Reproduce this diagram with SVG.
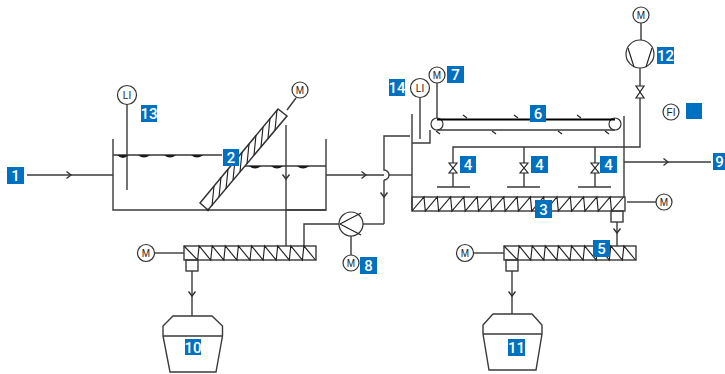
<svg xmlns="http://www.w3.org/2000/svg" width="725" height="374" viewBox="0 0 725 374">
<style>
.l{fill:none;stroke:#3a3a3a;stroke-width:1.4}
.t{fill:none;stroke:#222;stroke-width:1.15}
.c{fill:#fff;stroke:#333;stroke-width:1.2}
.k{fill:#222;font-family:"Liberation Sans",sans-serif;font-size:10px;text-anchor:middle}
.b{fill:#0070c0}
.w{fill:#fff;font-family:"Roboto",sans-serif;font-size:15px;font-weight:500;text-anchor:middle}
.m{fill:#1a1a1a}
.mm{marker-mid:url(#a)}
</style>
<defs>
<marker id="a" markerUnits="userSpaceOnUse" markerWidth="10" markerHeight="10" refX="5" refY="5" orient="auto" overflow="visible">
<path d="M1.500 1.500 L6 5 L1.500 8.500" fill="none" stroke="#333" stroke-width="1.400"/>
</marker>
</defs>
<rect width="725" height="374" fill="#fff"/>
<g id="connectors">
<path class="l mm" d="M27 175 L70 175 L113 175"/>
<path class="l mm" d="M326 175 L365 175 L384 175"/>
<path class="l" d="M389 175 L412 175"/>
<path class="l" d="M410 136 L384 136 L384 170 A5 5 0 0 1 384 180"/>
<path class="l mm" d="M384 180 L384 196 L384 224"/>
<path class="l" d="M384 224 L363 224"/>
<path class="l" d="M339 224 L304 224 L304 246"/>
<path class="l mm" d="M286 125 L286 178 L286 246"/>
<path class="l" d="M326 210 L286 210"/>
<path class="l" d="M351 236 L351 255"/>
<path class="l" d="M155 253 L184 253"/>
<path class="l mm" d="M192 271 L192 295 L192 316"/>
<path class="l" d="M412 143 L430 143 L430 130"/>
<path class="l" d="M420 98 L420 139"/>
<path class="l" d="M437 83 L437 118"/>
<path class="l" d="M641 23 L641 40"/>
<path class="l" d="M640 68 L640 86 M640 98 L640 147 L453 147 L453 163 M453 173 L453 187 M524 147 L524 163 M524 173 L524 187 M595 147 L595 163 M595 173 L595 187"/>
<path class="l mm" d="M624 162 L667 162 L711 162"/>
<path class="l" d="M627 202 L656 202"/>
<path class="l mm" d="M617 222 L617 232 L617 246"/>
<path class="l" d="M474 253 L504 253"/>
<path class="l mm" d="M512 271 L512 295 L512 314"/>
<path class="l" d="M296 98 L287 110"/>
</g>
<g id="tank">
<path class="l" d="M113 139 V210 H326 V139"/>
<path class="l" d="M113 155 H222 M245 166 H326"/>
<path class="m" d="M117 155 Q123 161 129 155Z M138 155 Q144 160 150 155Z M164 155 Q170 160 176 155Z M191 155 Q197 160 203 155Z M249 166 Q255 171 261 166Z M271 166 Q277 171 283 166Z M297 166 Q303 171 309 166Z"/>
</g>
<g id="node-1"><rect class="b" x="7" y="167" width="17" height="17"/><text class="w" x="15.500" y="181">1</text></g>
<g id="node-13">
<path class="l" d="M127 104 V190"/>
<circle class="c" cx="127" cy="95" r="9.500"/><text class="k" x="127" y="99">LI</text>
<rect class="b" x="141" y="105" width="16" height="17"/><text class="w" x="149" y="119">13</text>
</g>
<g id="node-2">
<path d="M200 203 L278 109 L287 116 L208 210Z" fill="#fff" stroke="#333" stroke-width="1.500"/>
<path class="t" d="M214 186 L212 206 M221 177 L219 197 M228 169 L226 189 M235 160 L233 180 M242 152 L240 172 M249 144 L247 164 M256 135 L254 155 M263 127 L261 147 M270 118 L268 138 M277 110 L275 130"/>
<circle cx="208" cy="210" r="1.300" fill="#222"/>
<circle class="c" cx="300" cy="90" r="8"/><text class="k" x="300" y="94">M</text>
<rect class="b" x="223" y="149" width="16" height="17"/><text class="w" x="231" y="163">2</text>
</g>
<g id="node-8">
<circle class="c" cx="351" cy="224" r="12"/>
<path class="t" d="M340 224 L361 213 M340 224 L361 235"/>
<circle class="c" cx="351" cy="263" r="8"/><text class="k" x="351" y="267">M</text>
<rect class="b" x="360" y="257" width="17" height="17"/><text class="w" x="368.500" y="271">8</text>
</g>
<g id="node-conveyor-left">
<rect class="l" x="184" y="246" width="132" height="14"/>
<path class="t" d="M184 246 l13.600 14 l1.500 -14 l11.600 14 l1.500 -14 l11.600 14 l1.500 -14 l11.600 14 l1.500 -14 l11.600 14 l1.500 -14 l11.600 14 l1.500 -14 l11.600 14 l1.500 -14 l11.600 14 l1.500 -14 l11.600 14 l1.500 -14 l11.600 14"/>
<circle class="c" cx="146" cy="253" r="8.500"/><text class="k" x="146" y="257">M</text>
<rect class="l" x="186" y="260" width="12" height="11"/>
</g>
<g id="node-10">
<path class="l" d="M173 316 H212 L222.500 326 V336 L216 372 H170 L163 336 V326Z M163 336 H222.500"/>
<rect class="b" x="185" y="339" width="16" height="16"/><text class="w" x="193" y="352.500">10</text>
</g>
<g id="node-14">
<path class="l" d="M412 114 V210"/>
<circle class="c" cx="420" cy="88" r="9.500"/><text class="k" x="420" y="92">LI</text>
<rect class="b" x="389" y="79" width="16" height="17"/><text class="w" x="397" y="93">14</text>
</g>
<g id="node-7">
<circle class="c" cx="437" cy="75" r="8"/><text class="k" x="437" y="79">M</text>
<rect class="b" x="447" y="66" width="17" height="17"/><text class="w" x="455.500" y="80">7</text>
</g>
<g id="node-6">
<circle class="c" cx="437" cy="124" r="6"/><circle class="c" cx="615" cy="124" r="6"/>
<path d="M437 119.500 H615" fill="none" stroke="#000" stroke-width="2"/>
<path class="l" d="M437 130 H615"/>
<path class="t" d="M463 115 L467 118 M514 115 L518 118 M577 115 L581 118 M436 131 L440 134 M492 131 L496 134 M558 131 L562 134 M605 131 L609 134"/>
<rect class="b" x="530" y="105" width="16" height="17"/><text class="w" x="538" y="119">6</text>
</g>
<g id="node-12">
<circle class="c" cx="640" cy="54" r="14"/>
<path class="t" d="M628 48 L634 67 M652 48 L646 67"/>
<circle class="c" cx="641" cy="15" r="8"/><text class="k" x="641" y="19">M</text>
<path class="t" d="M636 86 L644 86 L636 98 L644 98Z" fill="#fff"/>
<rect class="b" x="657" y="47" width="17" height="17"/><text class="w" x="665.500" y="61">12</text>
</g>
<g id="node-fi">
<circle class="c" cx="671" cy="112" r="8"/><text class="k" x="671" y="116">FI</text>
<rect class="b" x="686" y="103" width="16" height="16"/>
</g>
<g id="node-4a">
<path class="t" d="M449 163 L457 163 L449 173 L457 173Z" fill="#fff"/>
<path class="l" d="M437 187 H470"/>
<rect class="b" x="460" y="156" width="16" height="17"/><text class="w" x="468" y="170">4</text>
</g>
<g id="node-4b">
<path class="t" d="M520 163 L528 163 L520 173 L528 173Z" fill="#fff"/>
<path class="l" d="M507 187 H540"/>
<rect class="b" x="531" y="156" width="17" height="17"/><text class="w" x="539.500" y="170">4</text>
</g>
<g id="node-4c">
<path class="t" d="M591 163 L599 163 L591 173 L599 173Z" fill="#fff"/>
<path class="l" d="M578 187 H611"/>
<rect class="b" x="600" y="156" width="17" height="17"/><text class="w" x="608.500" y="170">4</text>
</g>
<g id="node-3">
<path class="l" d="M624 116 V197"/>
<rect class="l" x="412" y="197" width="213" height="14"/>
<path class="t" d="M412 211 l12 -14 l1.300 14 l12 -14 l1.300 14 l12 -14 l1.300 14 l12 -14 l1.300 14 l12 -14 l1.300 14 l12 -14 l1.300 14 l12 -14 l1.300 14 l12 -14 l1.300 14 l12 -14 l1.300 14 l12 -14 l1.300 14 l12 -14 l1.300 14 l12 -14 l1.300 14 l12 -14 l1.300 14 l12 -14 l1.300 14 l12 -14 l1.300 14 l12 -14"/>
<rect class="l" x="611" y="211" width="12" height="11"/>
<circle class="c" cx="664" cy="202" r="8"/><text class="k" x="664" y="206">M</text>
<rect class="b" x="535" y="200" width="17" height="18"/><text class="w" x="543.500" y="214.500">3</text>
</g>
<g id="node-9"><rect class="b" x="713" y="153" width="12" height="17"/><text class="w" x="719.500" y="167">9</text></g>
<g id="node-5">
<rect class="l" x="504" y="246" width="132" height="14"/>
<path class="t" d="M504 246 l13.600 14 l1.500 -14 l11.600 14 l1.500 -14 l11.600 14 l1.500 -14 l11.600 14 l1.500 -14 l11.600 14 l1.500 -14 l11.600 14 l1.500 -14 l11.600 14 l1.500 -14 l11.600 14 l1.500 -14 l11.600 14 l1.500 -14 l11.600 14"/>
<circle class="c" cx="465" cy="253" r="8.500"/><text class="k" x="465" y="257">M</text>
<rect class="l" x="506" y="260" width="12" height="11"/>
<rect class="b" x="593" y="240" width="17" height="17"/><text class="w" x="601.500" y="254">5</text>
</g>
<g id="node-11">
<path class="l" d="M493 314 H532 L542 325 V334 L536 370 H489 L483 334 V325Z M483 334 H542"/>
<rect class="b" x="508" y="339" width="17" height="17"/><text class="w" x="516.500" y="353">11</text>
</g>
</svg>
